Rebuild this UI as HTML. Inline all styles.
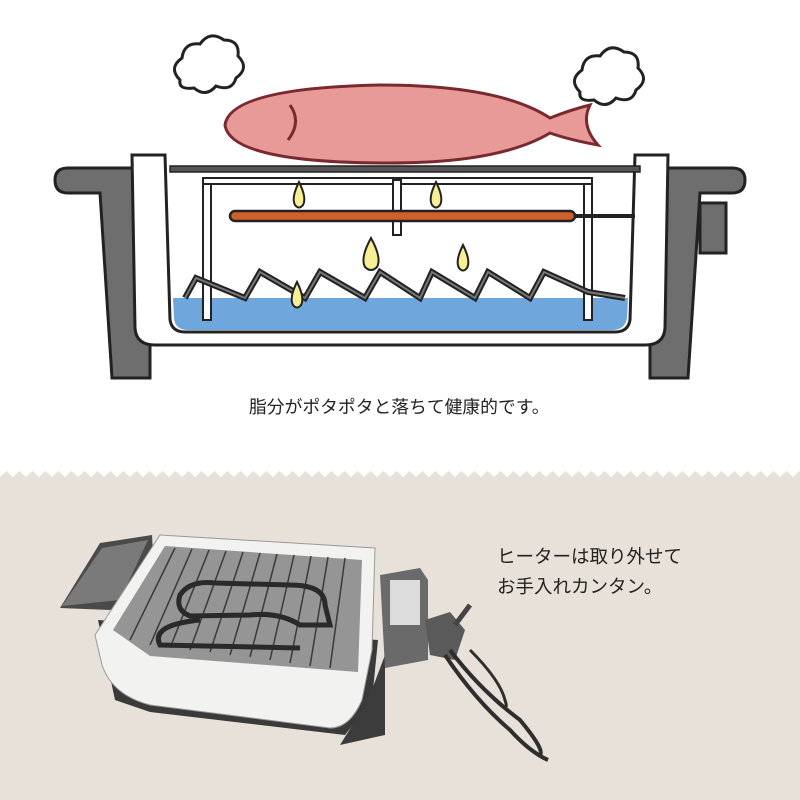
<!DOCTYPE html>
<html><head><meta charset="utf-8"><style>
html,body{margin:0;padding:0;background:#fff}
body{width:800px;height:800px;overflow:hidden;position:relative;font-family:"Liberation Sans","Noto Sans CJK JP",sans-serif}
.t{position:absolute;color:#222;white-space:nowrap;line-height:1}
</style></head><body>
<svg width="800" height="800" viewBox="0 0 800 800" style="position:absolute;left:0;top:0">
<defs>
<pattern id="zz" width="13" height="12" patternUnits="userSpaceOnUse" x="0" y="471">
<polygon points="0,6 6.5,0 13,6 13,12 0,12" fill="#e8e1d9"/>
</pattern>
</defs>
<rect x="0" y="471" width="800" height="12" fill="url(#zz)"/>
<rect x="0" y="477" width="800" height="323" fill="#e8e1d9"/>

<g fill="#fff" stroke="#222" stroke-width="3">
<path d="M180,80 q-12,-12 2,-22 q2,-16 18,-14 q10,-14 24,-4 q16,0 14,16 q12,12 -2,22 q-4,14 -20,8 q-10,12 -22,2 q-16,2 -14,-8z"/>
<path d="M580,92 q-12,-12 2,-22 q2,-16 18,-14 q10,-14 24,-4 q16,0 14,16 q12,12 -2,22 q-4,14 -20,8 q-10,12 -22,2 q-16,2 -14,-8z"/>
</g>
<path d="M225,125 Q230,88 380,85 Q500,85 550,118 Q570,110 590,105 Q580,125 598,145 Q570,140 550,133 Q500,163 390,163 Q230,163 225,125z" fill="#e79a98" stroke="#7a2a2e" stroke-width="3"/>
<path d="M290,105 Q302,122 288,140" fill="none" stroke="#7a2a2e" stroke-width="3"/>

<g fill="#6e6e6e" stroke="#222" stroke-width="3">
<path d="M68,168 H150 V378 H112 L100,193 H68 Q55,193 55,180 Q55,168 68,168z"/>
<path d="M732,168 H650 V378 H688 L700,193 H732 Q745,193 745,180 Q745,168 732,168z"/>
<rect x="700" y="203" width="26" height="50"/>
</g>
<path d="M132,155 H165 L170,320 Q172,332 185,332 H615 Q628,332 630,320 L635,155 H668 L665,328 Q664,345 645,345 H155 Q136,345 135,328z" fill="#fff" stroke="#222" stroke-width="3"/>
<path d="M173,298 H628 L627,318 Q625,330 612,330 H188 Q175,330 174,318z" fill="#6fa7dc"/>
<rect x="170" y="166" width="470" height="6" fill="#555" stroke="#222" stroke-width="1.5"/>
<g fill="#fff" stroke="#222" stroke-width="2">
<rect x="203" y="178" width="8" height="142"/>
<rect x="584" y="178" width="8" height="142"/>
<rect x="203" y="178" width="389" height="6"/>
<rect x="393" y="180" width="8" height="55"/>
</g>
<rect x="230" y="211" width="345" height="10" rx="5" fill="#d0602a" stroke="#222" stroke-width="2.5"/>
<line x1="575" y1="216" x2="635" y2="216" stroke="#222" stroke-width="4"/>
<polyline points="185,298 196,278 245,298 260,272 305,298 320,272 365,298 380,272 420,298 432,272 475,298 488,272 530,298 544,272 588,292 625,298" fill="none" stroke="#222" stroke-width="6"/>
<polyline points="185,298 196,278 245,298 260,272 305,298 320,272 365,298 380,272 420,298 432,272 475,298 488,272 530,298 544,272 588,292 625,298" fill="none" stroke="#777" stroke-width="2"/>
<g fill="#f7ef94" stroke="#222" stroke-width="2">
<path d="M299,182 Q307,198 303,205 Q299,210 295,205 Q291,198 299,182z"/>
<path d="M436,182 Q444,198 440,205 Q436,210 432,205 Q428,198 436,182z"/>
<path d="M371,238 Q382,258 377,267 Q371,273 365,267 Q360,258 371,238z"/>
<path d="M463,245 Q471,261 467,268 Q463,273 459,268 Q455,261 463,245z"/>
<path d="M297,282 Q305,298 301,305 Q297,310 293,305 Q289,298 297,282z"/>
</g>

<!-- product photo -->
<path d="M60,608 L100,543 L152,535 L155,590 L110,610z" fill="#4a4a4a"/>
<path d="M62,606 L102,548 L148,540 L120,600z" fill="#7a7a7a"/>
<path d="M98,620 L115,700 L150,712 L345,735 L372,700 L378,640z" fill="#3a3a3a"/>
<path d="M340,745 L368,700 L385,655 L385,735z" fill="#3c3c3c"/>
<path d="M95,635 L160,535 L375,548 L372,650 L362,700 Q350,728 330,728 L150,705 Q112,695 102,665z" fill="#f2f2f0" stroke="#999" stroke-width="1"/>
<path d="M113,630 L165,546 L362,560 L358,672 L150,656z" fill="#959595"/>
<g stroke="#3a3a3a" stroke-width="1.5" fill="none">
<line x1="175" y1="548" x2="130" y2="640"/><line x1="192" y1="549" x2="150" y2="645"/>
<line x1="209" y1="550" x2="170" y2="648"/><line x1="226" y1="551" x2="190" y2="650"/>
<line x1="243" y1="552" x2="210" y2="652"/><line x1="260" y1="553" x2="230" y2="655"/>
<line x1="277" y1="554" x2="250" y2="657"/><line x1="294" y1="555" x2="270" y2="660"/>
<line x1="311" y1="556" x2="290" y2="663"/><line x1="328" y1="557" x2="310" y2="666"/>
<line x1="345" y1="558" x2="330" y2="668"/>
</g>
<path d="M330,625 L300,625 Q280,612 250,615 L190,616 Q175,610 180,595 Q190,580 215,583 L290,585 Q325,585 325,605z" fill="none" stroke="#2a2a2a" stroke-width="5"/>
<path d="M200,620 Q150,625 160,645 L300,648" fill="none" stroke="#2a2a2a" stroke-width="5"/>
<path d="M380,575 L420,568 L428,580 L428,660 L385,668z" fill="#6a6a6a"/>
<rect x="390" y="580" width="30" height="45" fill="#dcdcdc"/>
<path d="M425,620 L450,612 L465,630 L455,660 L430,655z" fill="#5a5a5a"/>
<path d="M455,625 L470,605" stroke="#444" stroke-width="5"/>
<path d="M450,650 Q480,690 520,720 Q545,750 540,755" fill="none" stroke="#2e2e2e" stroke-width="4"/>
<path d="M445,655 Q475,700 510,730 Q530,752 548,760" fill="none" stroke="#2e2e2e" stroke-width="4"/>
<path d="M470,650 Q500,680 505,700 Q510,715 495,700" fill="none" stroke="#2e2e2e" stroke-width="3"/>
</svg>
<div class="t" style="left:249px;top:399px;font-size:17.8px">脂分がポタポタと落ちて健康的です。</div>
<div class="t" style="left:497px;top:548px;font-size:18.5px">ヒーターは取り外せて</div>
<div class="t" style="left:497px;top:578px;font-size:18.5px">お手入れカンタン。</div>
</body></html>
